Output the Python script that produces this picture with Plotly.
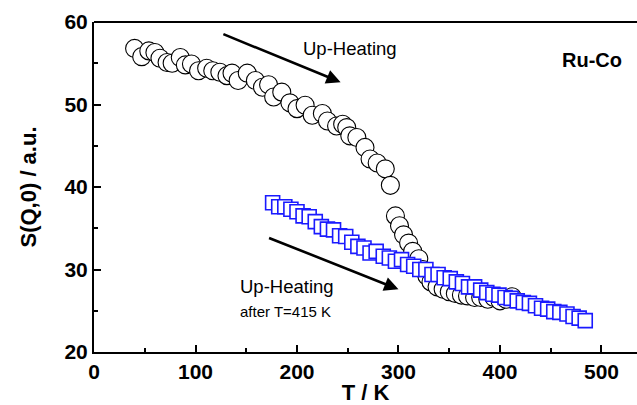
import plotly.graph_objects as go

# Up-heating, as prepared (open circles): T in K, S(Q,0) in a.u.
circ_T = [40, 47, 54, 60, 65, 72, 77, 85, 90, 96, 103, 111, 117, 124, 131, 136, 142, 151,
          159, 166, 172, 177, 185, 193, 200, 208, 215, 225, 230, 239, 245, 249, 252, 259,
          267, 272, 279, 287, 292,
          297, 301, 305, 310, 314, 320, 324, 328, 332, 338, 344, 350, 356, 362, 368, 375,
          381, 388, 394, 400, 406, 412]
circ_S = [56.8, 55.8, 56.5, 56.3, 55.6, 55.1, 55.0, 55.7, 54.8, 54.9, 54.1, 54.4, 54.1, 53.9,
          53.5, 53.8, 52.9, 53.8, 52.9, 52.1, 52.4, 50.9, 51.5, 50.2, 49.5, 49.9, 48.7, 48.9,
          48.0, 47.4, 47.6, 47.2, 46.2, 46.0, 44.8, 43.4, 42.9, 42.2, 40.2,
          36.5, 35.3, 34.2, 33.2, 32.2, 31.3, 30.0, 29.2, 28.5, 27.9, 27.6, 27.3, 27.1, 26.9,
          26.8, 26.6, 26.6, 26.4, 26.6, 26.2, 26.4, 26.7]

# Up-heating after T=415 K (open blue squares)
sq_T = [176, 182, 188, 194, 200, 206, 212, 218, 224, 230, 236, 242, 248, 254, 260, 266, 272,
        278, 285, 291, 297, 303, 309, 315, 321, 327, 333, 339, 345, 351, 357, 363, 369, 375,
        381, 387, 393, 399, 405, 411, 417, 423, 429, 435, 441, 447, 453, 459, 466, 472, 478,
        484]
sq_S = [38.1, 37.6, 37.6, 37.3, 37.0, 36.5, 36.4, 35.8, 35.2, 34.9, 34.8, 34.1, 34.0, 33.3,
        32.8, 32.6, 32.0, 32.2, 31.6, 31.4, 31.0, 31.2, 30.6, 30.4, 30.0, 30.0, 29.4, 29.4,
        29.0, 28.9, 28.5, 28.3, 27.9, 27.9, 27.5, 27.2, 27.0, 26.9, 26.6, 26.5, 26.2, 26.0,
        25.9, 25.6, 25.3, 25.2, 24.9, 24.8, 24.6, 24.3, 24.1, 23.8]

x_ticks = [0, 100, 200, 300, 400, 500]
y_ticks = [20, 30, 40, 50, 60]

FONT = "Arial, Liberation Sans, sans-serif"

fig = go.Figure()
fig.add_trace(go.Scatter(
    x=circ_T, y=circ_S, mode="markers",
    marker=dict(symbol="circle", size=18, color="white",
                line=dict(color="black", width=1.1)),
    showlegend=False, cliponaxis=False))
fig.add_trace(go.Scatter(
    x=sq_T, y=sq_S, mode="markers",
    marker=dict(symbol="square", size=14, color="white",
                line=dict(color="#1a1aff", width=1.6)),
    showlegend=False, cliponaxis=False))

# arrows
fig.add_annotation(x=243, y=52.7, ax=126, ay=58.6, xref="x", yref="y", axref="x", ayref="y",
                   showarrow=True, arrowhead=2, arrowsize=1.1, arrowwidth=2.6,
                   arrowcolor="black", text="")
fig.add_annotation(x=300, y=27.6, ax=171, ay=33.9, xref="x", yref="y", axref="x", ayref="y",
                   showarrow=True, arrowhead=2, arrowsize=1.1, arrowwidth=2.6,
                   arrowcolor="black", text="")

fig.add_annotation(x=252, y=56.8, xref="x", yref="y", text="Up-Heating", showarrow=False,
                   font=dict(family=FONT, size=18.5, color="black"))
fig.add_annotation(x=190, y=28.0, xref="x", yref="y", text="Up-Heating", showarrow=False,
                   font=dict(family=FONT, size=18.5, color="black"))
fig.add_annotation(x=142, y=24.9, xref="x", yref="y", text="after T=415 K", showarrow=False,
                   xanchor="left", font=dict(family=FONT, size=15, color="black"))
fig.add_annotation(x=491, y=55.4, xref="x", yref="y", text="<b>Ru-Co</b>", showarrow=False,
                   font=dict(family=FONT, size=20, color="black"))

# top frame line
fig.add_shape(type="line", xref="paper", yref="paper", x0=0, x1=1, y0=1, y1=1,
              line=dict(color="black", width=2))

fig.update_xaxes(range=[0, 535], tickvals=x_ticks, ticktext=[f"<b>{v}</b>" for v in x_ticks],
                 ticks="inside", ticklen=7, tickwidth=2, tickcolor="black",
                 minor=dict(dtick=50, ticks="inside", ticklen=4, tickwidth=2, tickcolor="black"),
                 showline=True, linecolor="black", linewidth=2, showgrid=False, zeroline=False,
                 tickfont=dict(family=FONT, size=21, color="black"),
                 title=dict(text="<b>T / K</b>", font=dict(family=FONT, size=22, color="black"),
                            standoff=2))
fig.update_yaxes(range=[20, 60], tickvals=y_ticks, ticktext=[f"<b>{v}</b>" for v in y_ticks],
                 ticks="inside", ticklen=7, tickwidth=2, tickcolor="black",
                 minor=dict(dtick=5, ticks="inside", ticklen=4, tickwidth=2, tickcolor="black"),
                 showline=True, linecolor="black", linewidth=2, showgrid=False, zeroline=False,
                 tickfont=dict(family=FONT, size=21, color="black"),
                 title=dict(text="<b>S(Q,0) / a.u.</b>",
                            font=dict(family=FONT, size=22, color="black"), standoff=22))

fig.update_layout(width=637, height=405, margin=dict(l=94, r=0, t=22, b=53),
                  plot_bgcolor="white", paper_bgcolor="white")

fig.write_html("out.html")
